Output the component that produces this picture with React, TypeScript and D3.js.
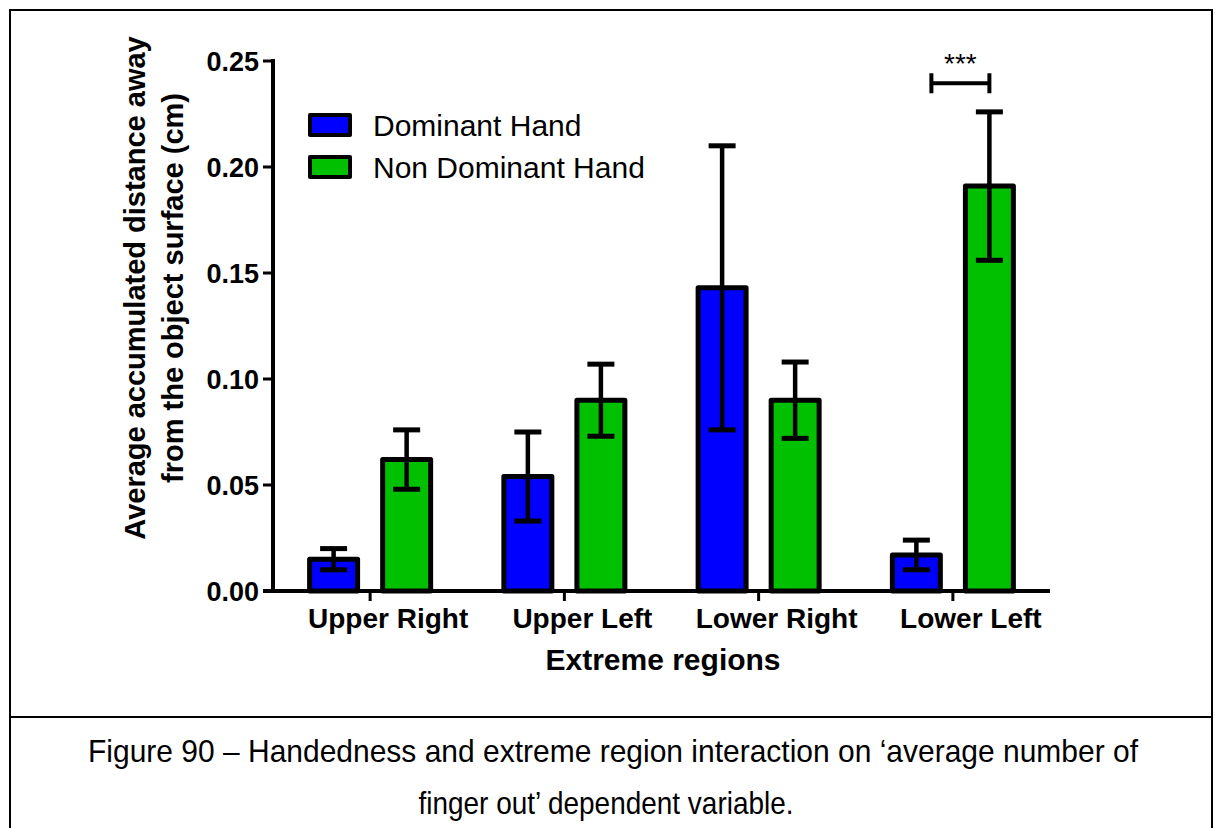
import React from "react";
import * as d3 from "d3";

const categories = ["Upper Right", "Upper Left", "Lower Right", "Lower Left"];
const seriesNames = ["Dominant Hand", "Non Dominant Hand"];
const dominantMeans = [0.015, 0.054, 0.143, 0.017];
const dominantErrors = [0.005, 0.021, 0.067, 0.007];
const nonDominantMeans = [0.062, 0.09, 0.09, 0.191];
const nonDominantErrors = [0.014, 0.017, 0.018, 0.035];
const yTicks = [0, 0.05, 0.1, 0.15, 0.2, 0.25];
const captionLines = [
  "Figure 90 \u2013 Handedness and extreme region interaction on \u2018average number of",
  "finger out\u2019 dependent variable.",
];

const W = 1215;
const H = 828;
const colors = ["#0000ff", "#00c000"];
const font = "'Liberation Sans', Arial, sans-serif";

const App: React.FC = () => {
  const x = d3.scaleBand<string>().domain(categories).range([273, 1050]).padding(0);
  const y = d3.scaleLinear().domain([0, 0.25]).range([591, 61]);
  const sub = d3
    .scalePoint<string>()
    .domain(seriesNames)
    .range([-x.bandwidth() * 0.188, x.bandwidth() * 0.188]);
  const barW = x.bandwidth() * 0.247;
  const capW = 27;

  const series = [
    { name: seriesNames[0], means: dominantMeans, errs: dominantErrors },
    { name: seriesNames[1], means: nonDominantMeans, errs: nonDominantErrors },
  ];

  const bars = series.flatMap((s, si) =>
    categories.map((c, ci) => ({
      key: `${si}-${ci}`,
      cx: (x(c) as number) + x.bandwidth() / 2 + (sub(s.name) as number),
      mean: s.means[ci],
      err: s.errs[ci],
      color: colors[si],
    }))
  );

  // significance bracket on the last group (ends at the green bar centre)
  const lastC = categories[3];
  const sigRight = (x(lastC) as number) + x.bandwidth() / 2 + (sub(seriesNames[1]) as number);
  const sigLeft = sigRight - 58;
  const sigY = y(0.2395);

  return (
    <svg
      width={W}
      height={H}
      style={{ position: "absolute", left: 0, top: 0, background: "#fff" }}
      fontFamily={font}
    >
      <rect x={0} y={0} width={W} height={H} fill="#fff" />
      {/* frame */}
      <rect x={10} y={10} width={1202} height={900} fill="none" stroke="#000" strokeWidth={2} />
      <line x1={10} x2={1212} y1={717} y2={717} stroke="#000" strokeWidth={2} />

      {/* bars */}
      {bars.map((b) => (
        <rect
          key={b.key}
          x={b.cx - barW / 2}
          y={y(b.mean)}
          width={barW}
          height={y(0) - y(b.mean)}
          fill={b.color}
          stroke="#000"
          strokeWidth={5}
          strokeLinejoin="round"
        />
      ))}
      {/* error bars */}
      {bars.map((b) => (
        <g key={"e" + b.key} stroke="#000">
          <line x1={b.cx} x2={b.cx} y1={y(b.mean - b.err)} y2={y(b.mean + b.err)} strokeWidth={4.5} />
          <line x1={b.cx - capW / 2} x2={b.cx + capW / 2} y1={y(b.mean + b.err)} y2={y(b.mean + b.err)} strokeWidth={5} />
          <line x1={b.cx - capW / 2} x2={b.cx + capW / 2} y1={y(b.mean - b.err)} y2={y(b.mean - b.err)} strokeWidth={5} />
        </g>
      ))}

      {/* y axis */}
      <line x1={273} x2={273} y1={y(0.25) - 2} y2={y(0)} stroke="#000" strokeWidth={4} />
      {yTicks.map((t) => (
        <g key={t}>
          <line x1={263} x2={273} y1={y(t)} y2={y(t)} stroke="#000" strokeWidth={3} />
          <text
            x={259}
            y={y(t)}
            dy="0.36em"
            textAnchor="end"
            fontSize={27}
            fontWeight="bold"
          >
            {d3.format(".2f")(t)}
          </text>
        </g>
      ))}

      {/* x axis */}
      <line x1={263} x2={1050} y1={y(0)} y2={y(0)} stroke="#000" strokeWidth={4} />
      {categories.map((c) => {
        const cx = (x(c) as number) + x.bandwidth() / 2;
        return (
          <g key={c}>
            <line x1={cx} x2={cx} y1={y(0)} y2={y(0) + 10} stroke="#000" strokeWidth={3} />
            <text x={cx + 18} y={628} textAnchor="middle" fontSize={28} fontWeight="bold">
              {c}
            </text>
          </g>
        );
      })}
      <text x={663} y={670} textAnchor="middle" fontSize={30} fontWeight="bold">
        Extreme regions
      </text>

      {/* y title */}
      <g transform="translate(0,288) rotate(-90)" fontWeight="bold" fontSize={29}>
        <text x={0} y={145} textAnchor="middle">
          Average accumulated distance away
        </text>
        <text x={0} y={183} textAnchor="middle">
          from the object surface (cm)
        </text>
      </g>

      {/* legend */}
      {seriesNames.map((n, i) => (
        <g key={n} transform={`translate(0,${i * 42})`}>
          <rect x={310} y={115} width={40} height={20} fill={colors[i]} stroke="#000" strokeWidth={4} strokeLinejoin="round" />
          <text x={373} y={136} fontSize={30}>
            {n}
          </text>
        </g>
      ))}

      {/* significance */}
      <g stroke="#000" strokeWidth={4}>
        <line x1={sigLeft} x2={sigRight} y1={sigY} y2={sigY} />
        <line x1={sigLeft} x2={sigLeft} y1={sigY - 10} y2={sigY + 10} />
        <line x1={sigRight} x2={sigRight} y1={sigY - 10} y2={sigY + 10} />
      </g>
      <text x={(sigLeft + sigRight) / 2} y={73} textAnchor="middle" fontSize={28}>
        ***
      </text>

      {/* caption */}
      <text x={613} y={762} textAnchor="middle" fontSize={32} textLength={1050} lengthAdjust="spacingAndGlyphs">
        {captionLines[0]}
      </text>
      <text x={606} y={814} textAnchor="middle" fontSize={32} textLength={375} lengthAdjust="spacingAndGlyphs">
        {captionLines[1]}
      </text>
    </svg>
  );
};

export default App;
